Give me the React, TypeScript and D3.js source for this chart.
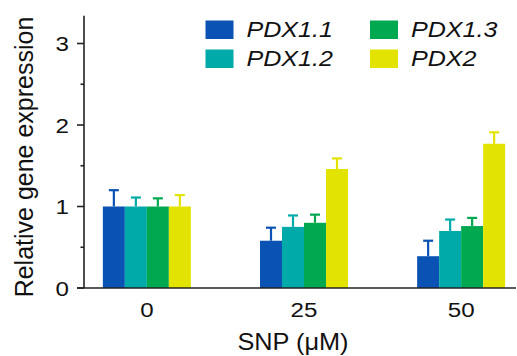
import React from 'react';
import * as d3 from 'd3';

const doses = ['0', '25', '50'];
const genes = ['PDX1.1', 'PDX1.2', 'PDX1.3', 'PDX2'];
const geneColors = ['#0a52b3', '#00aaa8', '#00a84f', '#e3e300'];
// means per gene, one value per dose
const means = [
  [1.0, 0.58, 0.39],
  [1.0, 0.75, 0.70],
  [1.0, 0.80, 0.76],
  [1.0, 1.46, 1.77],
];
// upper error (mean + sd)
const upper = [
  [1.20, 0.74, 0.58],
  [1.11, 0.89, 0.84],
  [1.10, 0.90, 0.86],
  [1.14, 1.59, 1.91],
];
const yTicks = [0, 1, 2, 3];
const yMinor = [0.5, 1.5, 2.5];

const W = 517, H = 356;
const left = 84, right = 516, bottom = 288;
const font = 'Arial, "Liberation Sans", Helvetica, sans-serif';

export default function App() {
  const y = d3.scaleLinear().domain([0, 3]).range([bottom, 43.5]);
  const x = d3.scalePoint().domain(doses).range([left, 524]).padding(0.4);
  const cx = (d: string) => x(d) as number;
  const sub = d3.scaleBand().domain(genes).range([-44, 44]).padding(0);

  return (
    <svg width={W} height={H} style={{ position: 'absolute', left: 0, top: 0 }} fontFamily={font}>
      <rect width={W} height={H} fill="#fff" />

      {/* bars + error bars */}
      {genes.map((g, gi) => (
        <g key={g}>
          {doses.map((d, di) => {
            const x0 = cx(d) + (sub(g) as number);
            const bw = sub.bandwidth();
            const mid = x0 + bw / 2;
            return (
              <g key={d}>
                <line x1={mid} x2={mid} y1={y(means[gi][di])} y2={y(upper[gi][di])} stroke={geneColors[gi]} strokeWidth={2.2} />
                <line x1={mid - 5} x2={mid + 5} y1={y(upper[gi][di])} y2={y(upper[gi][di])} stroke={geneColors[gi]} strokeWidth={2.2} />
                <rect x={x0} y={y(means[gi][di])} width={bw} height={bottom - y(means[gi][di])} fill={geneColors[gi]} />
              </g>
            );
          })}
        </g>
      ))}

      {/* y axis */}
      <line x1={left} x2={left} y1={y(3.34)} y2={bottom} stroke="#222" strokeWidth={1.6} />
      {yTicks.map(t => (
        <g key={t}>
          <line x1={left - 7} x2={left} y1={y(t)} y2={y(t)} stroke="#222" strokeWidth={1.6} />
          <text transform={`translate(${left - 15},${y(t) + 7.5}) scale(1.15,1)`} textAnchor="end" fontSize={21} fill="#111">{t}</text>
        </g>
      ))}
      {yMinor.map(t => (
        <line key={t} x1={left - 3.5} x2={left} y1={y(t)} y2={y(t)} stroke="#222" strokeWidth={1.6} />
      ))}

      {/* x axis */}
      <line x1={left - 7} x2={right} y1={bottom} y2={bottom} stroke="#222" strokeWidth={1.6} />
      {doses.map(d => (
        <text key={d} transform={`translate(${cx(d)},${bottom + 29}) scale(1.15,1)`} textAnchor="middle" fontSize={21} fill="#111">{d}</text>
      ))}
      <text transform={`translate(293,349.5) scale(1.1,1)`} textAnchor="middle" fontSize={23} fill="#111">SNP (μM)</text>
      <text transform={`translate(33,157) rotate(-90)`} textAnchor="middle" fontSize={25} fill="#111">Relative gene expression</text>

      {/* legend */}
      {genes.map((g, i) => {
        const col = Math.floor(i / 2), row = i % 2;
        const lx = 205.5 + col * 164.5;
        const ly = 20.5 + row * 29;
        return (
          <g key={g}>
            <rect x={lx} y={ly} width={28} height={18.5} fill={geneColors[i]} />
            <text transform={`translate(${lx + 41},${ly + 16.5}) scale(1.14,1)`} fontSize={22} fontStyle="italic" fill="#111">{g}</text>
          </g>
        );
      })}
    </svg>
  );
}
